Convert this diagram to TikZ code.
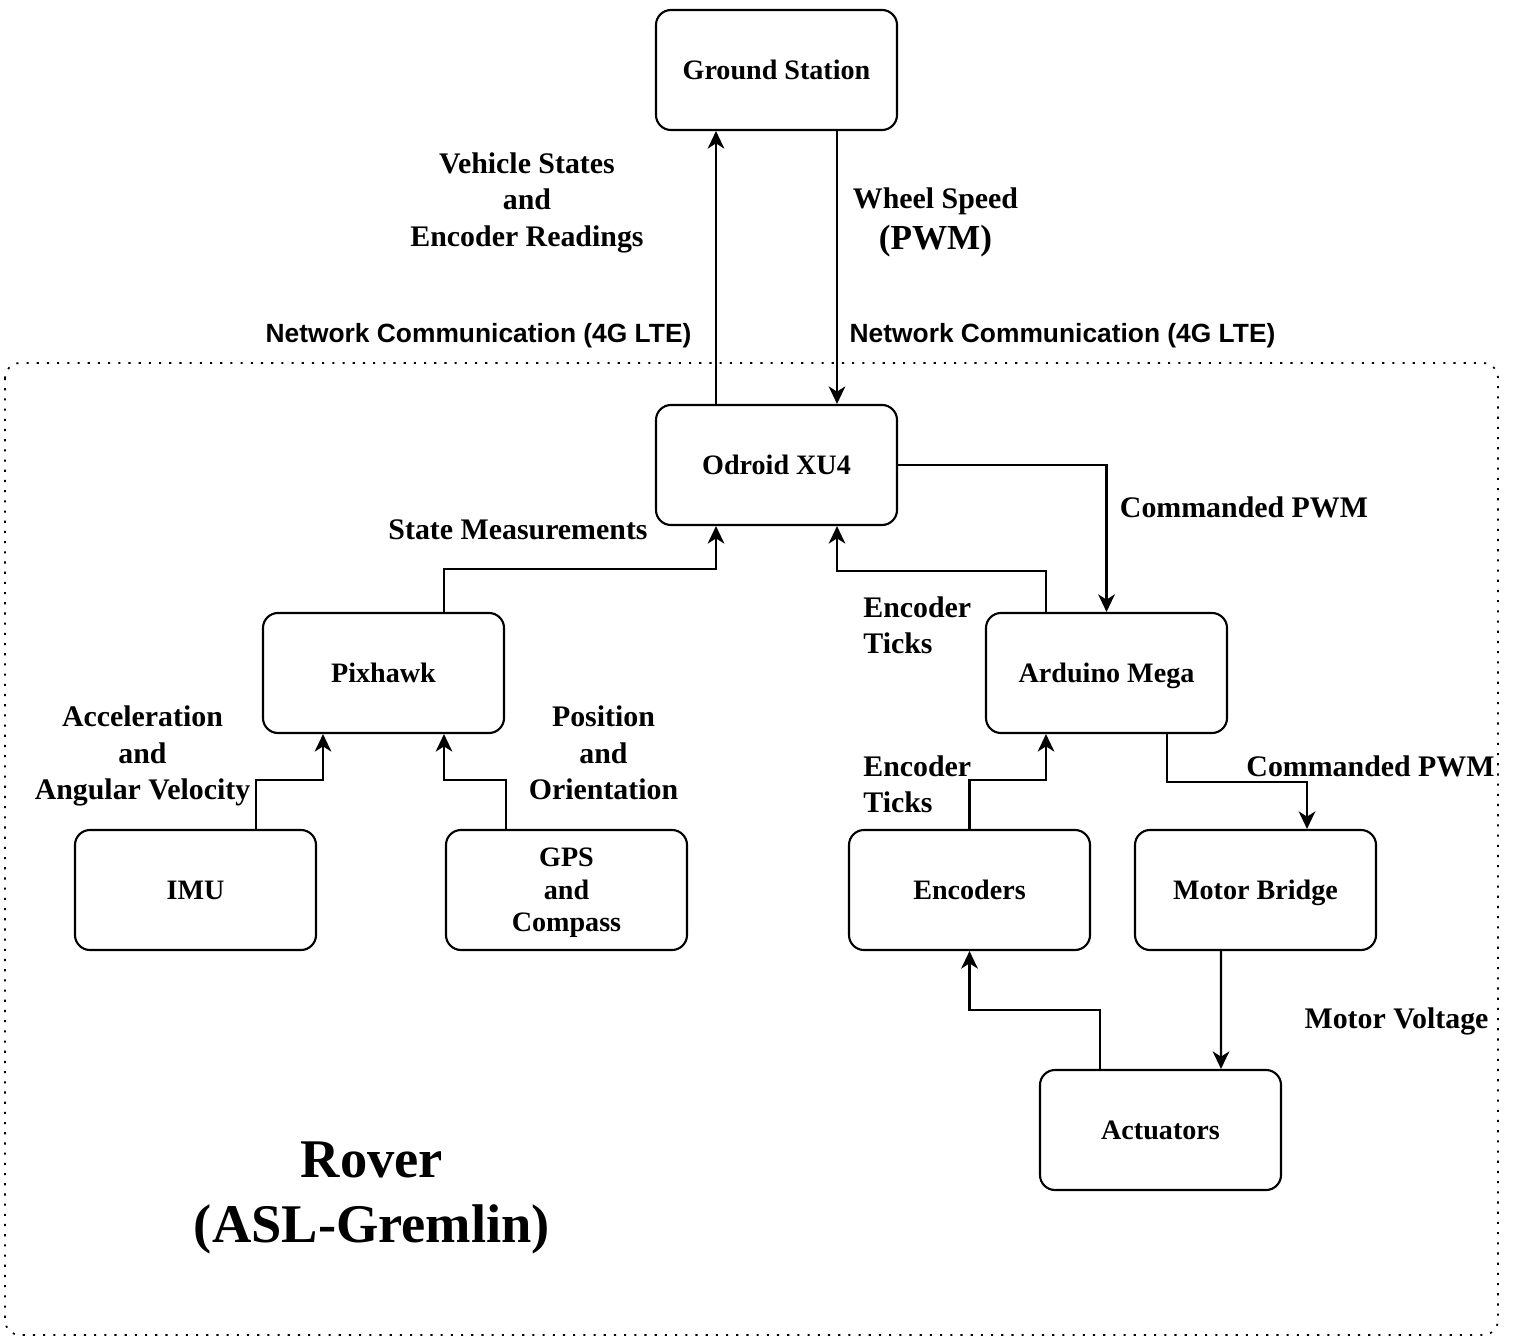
\documentclass[tikz,border=0pt]{standalone}
\usepackage{fontspec}
\setmainfont{Liberation Serif}
\newfontfamily\netfont{Liberation Sans}
\usetikzlibrary{arrows.meta}

\begin{document}
\begin{tikzpicture}[
	block/.style={draw, line width=1.2pt, rounded corners=0.3cm, minimum width=4.82cm, minimum height=2.4cm, align=center, text depth=0pt, font=\fontsize{16}{18.5}\selectfont\bfseries},
	flow/.style={line width=1.2pt, -{Stealth[length=10pt,width=9.5pt,inset=3pt]}},
	lbl/.style={align=center, inner sep=0pt, text depth=0pt, font=\fontsize{17}{20.7}\selectfont\bfseries},
	net/.style={inner sep=0pt, text depth=0pt, font=\fontsize{15}{17}\selectfont\netfont\bfseries}
]
	\useasboundingbox (0,0) rectangle (30.26,-26.74);
	
	% rover frame
	\draw[line width=1pt, dash pattern=on 1.2pt off 4.6pt, rounded corners=0.3cm] (0.1,-7.26) rectangle (29.96,-26.7);
	
	\node[block] (ground) at (15.53,-1.4) {Ground Station};
	\node[block] (odroid) at (15.53,-9.3) {Odroid XU4};
	\node[block] (pixhawk) at (7.67,-13.46) {Pixhawk};
	\node[block] (arduino) at (22.13,-13.46) {Arduino Mega};
	\node[block] (imu) at (3.91,-17.8) {IMU};
	\node[block] (gps) at (11.33,-17.8) {GPS\\and\\Compass};
	\node[block] (encoders) at (19.39,-17.8) {Encoders};
	\node[block] (bridge) at (25.11,-17.8) {Motor Bridge};
	\node[block] (actuators) at (23.21,-22.6) {Actuators};
	
	\draw[flow] ([xshift=-1.21cm]odroid.north) -- ([xshift=-1.21cm]ground.south);
	\draw[flow] ([xshift=1.21cm]ground.south) -- ([xshift=1.21cm]odroid.north);
	\draw[flow] (odroid.east) -| (arduino.north);
	\draw[flow] ([xshift=-1.21cm]arduino.north) -- ++(0,0.82) -| ([xshift=1.21cm]odroid.south);
	\draw[flow] ([xshift=1.21cm]pixhawk.north) -- ++(0,0.86) -| ([xshift=-1.21cm]odroid.south);
	\draw[flow] ([xshift=1.21cm]imu.north) -- ++(0,0.98) -| ([xshift=-1.21cm]pixhawk.south);
	\draw[flow] ([xshift=-1.21cm]gps.north) -- ++(0,0.98) -| ([xshift=1.21cm]pixhawk.south);
	\draw[flow] (encoders.north) -- ++(0,0.98) -| ([xshift=-1.21cm]arduino.south);
	\draw[flow] ([xshift=1.21cm]arduino.south) -- ++(0,-0.96) -| ([xshift=1.03cm]bridge.north);
	\draw[flow] ([xshift=-0.69cm]bridge.south) -- ([xshift=1.21cm]actuators.north);
	\draw[flow] ([xshift=-1.21cm]actuators.north) -- ++(0,1.18) -| (encoders.south);
	
	% labels
	\node[lbl] (states) at (10.54,-3.99) {Vehicle States\\and\\Encoder Readings};
	\node[lbl] (speed) at (18.71,-4.37) {Wheel Speed\\[3pt]{\fontsize{20}{24}\selectfont (PWM)}};
	\node[net] (netup) at (9.57,-6.66) {Network Communication (4G LTE)};
	\node[net] (netdown) at (21.25,-6.66) {Network Communication (4G LTE)};
	\node[lbl] (meas) at (10.36,-10.6) {State Measurements};
	\node[lbl] (cmdodroid) at (24.88,-10.14) {Commanded PWM};
	\node[lbl, anchor=west, align=left] (ticksup) at (17.26,-12.5) {Encoder\\Ticks};
	\node[lbl] (accel) at (2.85,-15.06) {Acceleration\\and\\Angular Velocity};
	\node[lbl] (pose) at (12.07,-15.06) {Position\\and\\Orientation};
	\node[lbl, anchor=west, align=left] (ticksdown) at (17.26,-15.68) {Encoder\\Ticks};
	\node[lbl] (cmdbridge) at (27.41,-15.32) {Commanded PWM};
	\node[lbl] (voltage) at (27.93,-20.36) {Motor Voltage};
	\node[align=center, inner sep=0pt, text depth=0pt, font=\fontsize{31}{37}\selectfont\bfseries] (rover) at (7.44,-23.85) {Rover\\(ASL-Gremlin)};
\end{tikzpicture}
\end{document}
